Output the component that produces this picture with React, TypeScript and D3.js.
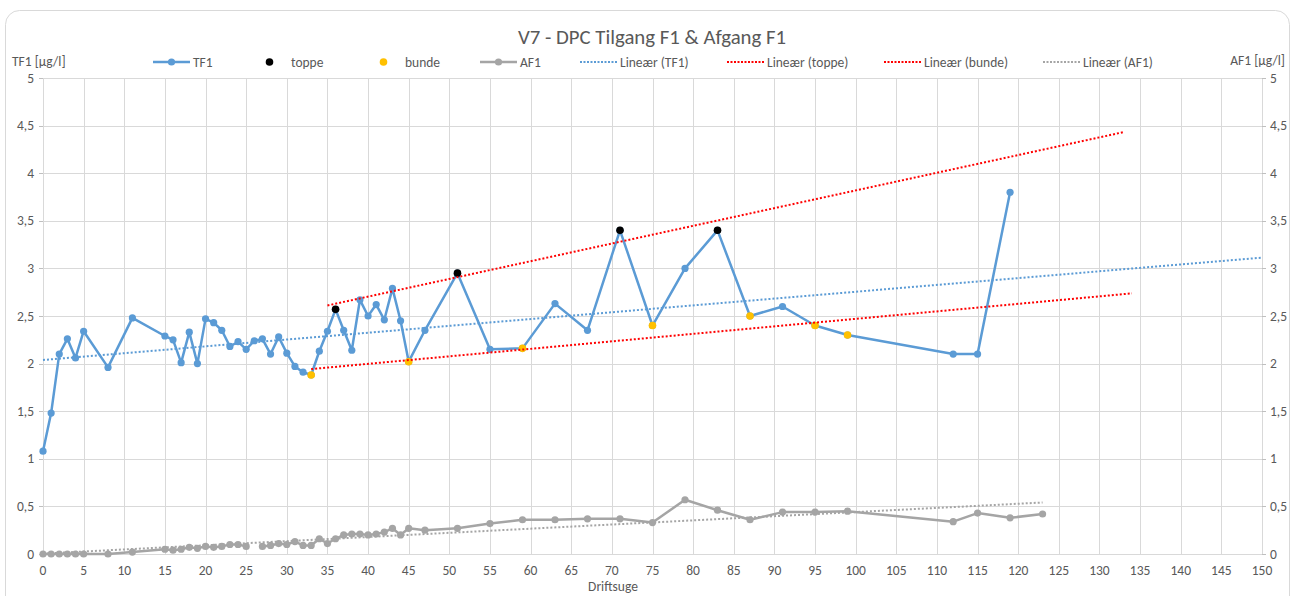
import React, { useRef, useEffect } from 'react';
import * as d3 from 'd3';

// TF1 (inlet) measurements: week -> µg/l
const tf1Weeks = [0, 1, 2, 3, 4, 5, 8, 11, 15, 16, 17, 18, 19, 20, 21, 22, 23, 24, 25, 26, 27, 28, 29, 30, 31, 32, 33, 34, 35, 36, 37, 38, 39, 40, 41, 42, 43, 44, 45, 47, 51, 55, 59, 63, 67, 71, 75, 79, 83, 87, 91, 95, 99, 112, 115, 119];
const tf1Values = [1.08, 1.48, 2.1, 2.26, 2.06, 2.34, 1.96, 2.48, 2.29, 2.25, 2.01, 2.33, 2.0, 2.47, 2.43, 2.35, 2.18, 2.23, 2.15, 2.24, 2.26, 2.1, 2.28, 2.11, 1.97, 1.91, 1.88, 2.13, 2.34, 2.57, 2.35, 2.14, 2.67, 2.5, 2.62, 2.46, 2.79, 2.45, 2.02, 2.35, 2.95, 2.15, 2.16, 2.63, 2.35, 3.4, 2.4, 3.0, 3.4, 2.5, 2.6, 2.4, 2.3, 2.1, 2.1, 3.8];

// peaks and valleys picked out of TF1
const toppeWeeks = [36, 51, 71, 83];
const toppeValues = [2.57, 2.95, 3.4, 3.4];
const bundeWeeks = [33, 45, 59, 75, 87, 95, 99];
const bundeValues = [1.88, 2.02, 2.16, 2.4, 2.5, 2.4, 2.3];

// AF1 (outlet) measurements, null = no sample
const af1Weeks = [0, 1, 2, 3, 4, 5, 8, 11, 15, 16, 17, 18, 19, 20, 21, 22, 23, 24, 25, 26, 27, 28, 29, 30, 31, 32, 33, 34, 35, 36, 37, 38, 39, 40, 41, 42, 43, 44, 45, 47, 51, 55, 59, 63, 67, 71, 75, 79, 83, 87, 91, 95, 99, 112, 115, 119, 123];
const af1Values = [0, 0, 0, 0, 0, 0, 0, 0.02, 0.05, 0.04, 0.05, 0.07, 0.06, 0.08, 0.07, 0.08, 0.1, 0.1, 0.08, null, 0.08, 0.09, 0.11, 0.1, 0.13, 0.09, 0.09, 0.16, 0.11, 0.16, 0.2, 0.21, 0.21, 0.2, 0.21, 0.23, 0.27, 0.2, 0.27, 0.25, 0.27, 0.32, 0.36, 0.36, 0.37, 0.37, 0.33, 0.57, 0.46, 0.36, 0.44, 0.44, 0.45, 0.34, 0.43, 0.38, 0.42];

// trendline extents [from, to] in weeks (Excel forecast forward/backward)
const trendTF1 = [0, 150];
const trendToppe = [35, 133];
const trendBunde = [33, 134];
const trendAF1 = [0, 123];

const xTicks = d3.range(0, 151, 5);
const yTicks = [0, 0.5, 1, 1.5, 2, 2.5, 3, 3.5, 4, 4.5, 5];

const FONT = "Carlito, Calibri, 'Liberation Sans Narrow', 'Open Sans', sans-serif";

function linReg(xs: number[], ys: (number | null)[]) {
  const pts = xs.map((x, i) => [x, ys[i]]).filter(p => p[1] != null) as number[][];
  const mx = d3.mean(pts, p => p[0])!;
  const my = d3.mean(pts, p => p[1])!;
  const sxy = d3.sum(pts, p => (p[0] - mx) * (p[1] - my));
  const sxx = d3.sum(pts, p => (p[0] - mx) ** 2);
  const b = sxy / sxx;
  return (x: number) => my + b * (x - mx);
}

const App = () => {
  const ref = useRef<SVGSVGElement>(null);

  useEffect(() => {
    document.body.style.margin = '0';
    if (!ref.current) return;
    const svg = d3.select(ref.current);
    svg.selectAll('*').remove();

    const width = 1292;
    const height = 596;
    const m = { left: 43, right: 30, top: 78, bottom: 42 };

    const x = d3.scaleLinear().domain([0, 150]).range([m.left, width - m.right]);
    const y = d3.scaleLinear().domain([0, 5]).range([height - m.bottom, m.top]);
    const fmt = (v: number) => String(v).replace('.', ',');

    // frame
    svg.append('rect')
      .attr('x', 5.5).attr('y', 10.5).attr('width', 1284).attr('height', 600)
      .attr('rx', 14).attr('fill', '#fff').attr('stroke', '#d9d9d9');

    // grid
    const grid = svg.append('g').attr('stroke', '#d9d9d9').attr('stroke-width', 1);
    grid.selectAll('.vg').data(xTicks).enter().append('line')
      .attr('x1', d => Math.round(x(d)) + 0.5).attr('x2', d => Math.round(x(d)) + 0.5)
      .attr('y1', y(5)).attr('y2', y(0));
    grid.selectAll('.hg').data(yTicks).enter().append('line')
      .attr('x1', x(0)).attr('x2', x(150))
      .attr('y1', d => Math.round(y(d)) + 0.5).attr('y2', d => Math.round(y(d)) + 0.5);

    // axis ticks
    const ax = svg.append('g').attr('stroke', '#bfbfbf');
    ax.selectAll('.lt').data(yTicks).enter().append('line')
      .attr('x1', x(0) - 4).attr('x2', x(0))
      .attr('y1', d => Math.round(y(d)) + 0.5).attr('y2', d => Math.round(y(d)) + 0.5);
    ax.selectAll('.rt').data(yTicks).enter().append('line')
      .attr('x1', x(150)).attr('x2', x(150) + 4)
      .attr('y1', d => Math.round(y(d)) + 0.5).attr('y2', d => Math.round(y(d)) + 0.5);

    const labels = svg.append('g').attr('font-family', FONT).attr('font-size', 13.5).attr('fill', '#595959');
    labels.selectAll('.yl').data(yTicks).enter().append('text')
      .attr('x', x(0) - 9).attr('y', d => y(d) + 4.5).attr('text-anchor', 'end').text(fmt);
    labels.selectAll('.yr').data(yTicks).enter().append('text')
      .attr('x', x(150) + 8).attr('y', d => y(d) + 4.5).attr('text-anchor', 'start').text(fmt);
    labels.selectAll('.xl').data(xTicks).enter().append('text')
      .attr('x', d => x(d)).attr('y', y(0) + 21).attr('text-anchor', 'middle').text(d => d);

    // titles
    svg.append('text').attr('x', 652).attr('y', 44).attr('text-anchor', 'middle')
      .attr('font-family', FONT).attr('font-size', 20.8).attr('fill', '#595959')
      .text('V7 - DPC Tilgang F1 & Afgang F1');
    labels.append('text').attr('x', 12).attr('y', 66).text('TF1 [µg/l]');
    labels.append('text').attr('x', 1285).attr('y', 65).attr('text-anchor', 'end').text('AF1 [µg/l]');
    labels.append('text').attr('x', 613).attr('y', 591).attr('text-anchor', 'middle').text('Driftsuge');

    // trendlines
    const trend = (xs: number[], ys: (number | null)[], ext: number[], color: string) => {
      const f = linReg(xs, ys);
      svg.append('line')
        .attr('x1', x(ext[0])).attr('y1', y(f(ext[0])))
        .attr('x2', x(ext[1])).attr('y2', y(f(ext[1])))
        .attr('stroke', color).attr('stroke-width', 2).attr('stroke-dasharray', '2 2');
    };

    const line = d3.line<[number, number | null]>()
      .defined(d => d[1] != null)
      .x(d => x(d[0])).y(d => y(d[1] as number));

    const series = (xs: number[], ys: (number | null)[], color: string) => {
      const data = xs.map((w, i) => [w, ys[i]] as [number, number | null]);
      svg.append('path').datum(data).attr('d', line)
        .attr('fill', 'none').attr('stroke', color).attr('stroke-width', 2.5).attr('stroke-linejoin', 'round');
      svg.append('g').selectAll('circle').data(data.filter(d => d[1] != null)).enter().append('circle')
        .attr('cx', d => x(d[0])).attr('cy', d => y(d[1] as number)).attr('r', 3.6).attr('fill', color);
    };

    const dots = (xs: number[], ys: number[], color: string) => {
      svg.append('g').selectAll('circle').data(xs).enter().append('circle')
        .attr('cx', d => x(d)).attr('cy', (d, i) => y(ys[i])).attr('r', 3.8).attr('fill', color);
    };

    series(af1Weeks, af1Values, '#a5a5a5');
    series(tf1Weeks, tf1Values, '#5b9bd5');
    dots(toppeWeeks, toppeValues, '#000000');
    dots(bundeWeeks, bundeValues, '#ffc000');
    trend(af1Weeks, af1Values, trendAF1, '#a5a5a5');
    trend(tf1Weeks, tf1Values, trendTF1, '#5b9bd5');
    trend(toppeWeeks, toppeValues, trendToppe, '#ff0000');
    trend(bundeWeeks, bundeValues, trendBunde, '#ff0000');

    // legend
    const legend = [
      { name: 'TF1', color: '#5b9bd5', kind: 'line', x0: 153 },
      { name: 'toppe', color: '#000000', kind: 'dot', x0: 251 },
      { name: 'bunde', color: '#ffc000', kind: 'dot', x0: 365 },
      { name: 'AF1', color: '#a5a5a5', kind: 'line', x0: 480 },
      { name: 'Lineær (TF1)', color: '#5b9bd5', kind: 'trend', x0: 580 },
      { name: 'Lineær (toppe)', color: '#ff0000', kind: 'trend', x0: 727 },
      { name: 'Lineær (bunde)', color: '#ff0000', kind: 'trend', x0: 884 },
      { name: 'Lineær (AF1)', color: '#a5a5a5', kind: 'trend', x0: 1043 },
    ];
    const ly = 62;
    const lg = svg.append('g');
    legend.forEach(d => {
      if (d.kind === 'line') {
        lg.append('line').attr('x1', d.x0).attr('x2', d.x0 + 37).attr('y1', ly).attr('y2', ly)
          .attr('stroke', d.color).attr('stroke-width', 2.5);
        lg.append('circle').attr('cx', d.x0 + 18.5).attr('cy', ly).attr('r', 3.6).attr('fill', d.color);
      } else if (d.kind === 'dot') {
        lg.append('circle').attr('cx', d.x0 + 18.5).attr('cy', ly).attr('r', 3.8).attr('fill', d.color);
      } else {
        lg.append('line').attr('x1', d.x0).attr('x2', d.x0 + 37).attr('y1', ly).attr('y2', ly)
          .attr('stroke', d.color).attr('stroke-width', 2).attr('stroke-dasharray', '2 1.5');
      }
      lg.append('text').attr('x', d.x0 + 40).attr('y', ly + 4.5)
        .attr('font-family', FONT).attr('font-size', 13.5).attr('fill', '#595959').text(d.name);
    });
  }, []);

  return (
    <div>
      <svg ref={ref} width={1292} height={596} style={{ display: 'block' }} />
    </div>
  );
};

export default App;
